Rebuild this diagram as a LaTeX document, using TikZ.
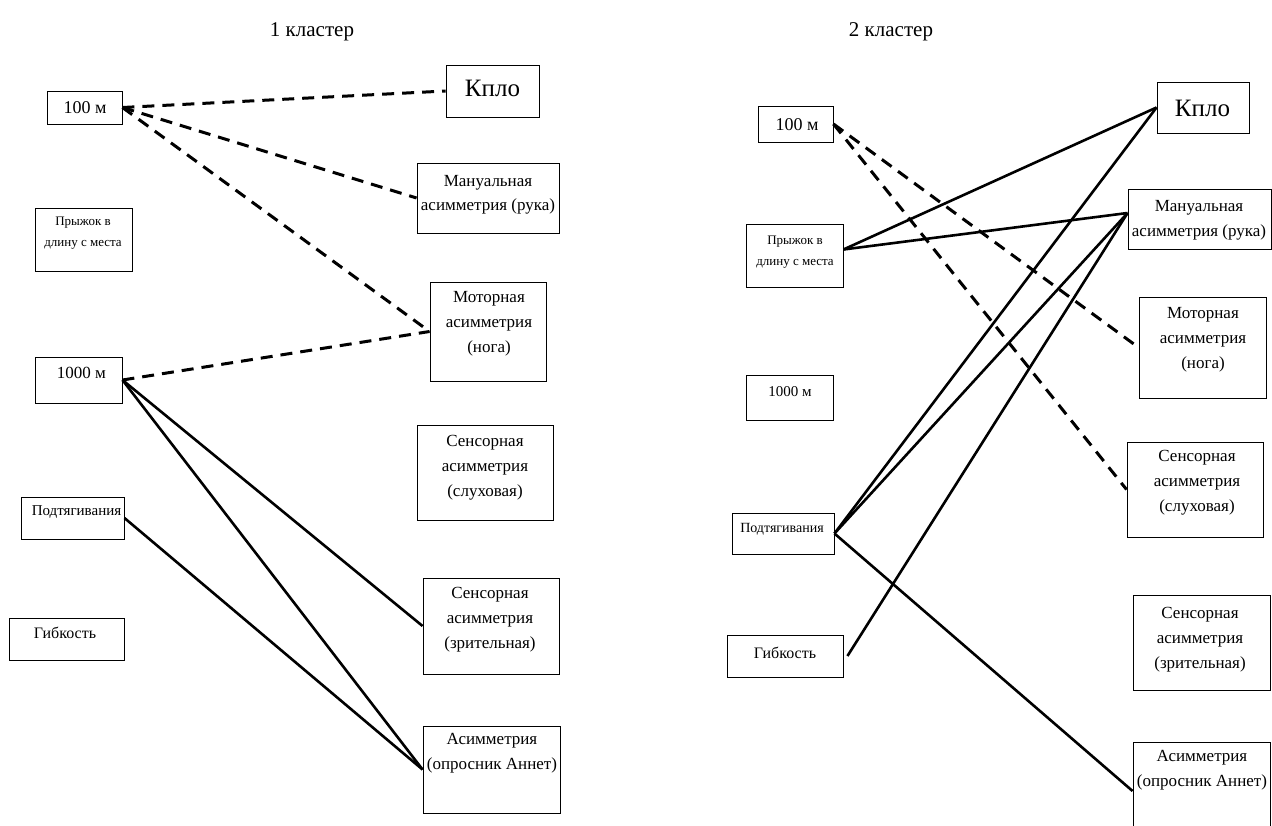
\documentclass[tikz,border=0pt]{standalone}
\usepackage{fontspec}
\setmainfont{Liberation Serif}
\usetikzlibrary{positioning}

\begin{document}
\begin{tikzpicture}[x=1pt, y=-1pt]
          \tikzset{ bx/.style ={draw, line width=0.9pt, inner sep=0pt} }
          \tikzset{ tx/.style ={align=center, inner sep=0pt, font=\fontsize{17}{25}\selectfont} }
          \tikzset{ dsh/.style={line width=3pt, dash pattern=on 12pt off 8pt} }
          \tikzset{ sld/.style={line width=2.6pt} }

          \useasboundingbox (0,0) rectangle (1272,826);
          \clip (0,0) rectangle (1272,826);

          \node[tx, font=\fontsize{21}{25}\selectfont] (ttl1) at (312, 32) {1 кластер};
          \node[tx, font=\fontsize{21}{25}\selectfont] (ttl2) at (891, 32) {2 кластер};

          % 1 кластер
          \node[bx, minimum width=75,  minimum height=33] (c1_100)  at (84.5, 107.5) {};
          \node[bx, minimum width=97,  minimum height=63] (c1_pr)   at (83.5, 239.5) {};
          \node[bx, minimum width=87,  minimum height=46] (c1_1000) at (78.5, 380.0) {};
          \node[bx, minimum width=103, minimum height=42] (c1_pod)  at (72.5, 518.0) {};
          \node[bx, minimum width=115, minimum height=42] (c1_gib)  at (66.5, 639.0) {};
          \node[bx, minimum width=93,  minimum height=52] (c1_kplo) at (492.5, 91.0) {};
          \node[bx, minimum width=142, minimum height=70] (c1_man)  at (488.0, 198.0) {};
          \node[bx, minimum width=116, minimum height=99] (c1_mot)  at (488.0, 331.5) {};
          \node[bx, minimum width=136, minimum height=95] (c1_sl)   at (485.0, 472.5) {};
          \node[bx, minimum width=136, minimum height=96] (c1_zr)   at (491.0, 626.0) {};
          \node[bx, minimum width=137, minimum height=87] (c1_as)   at (491.5, 769.5) {};

          \node[tx, font=\fontsize{18}{24}\selectfont] (c1_100t)  at (85, 108) {100 м};
          \node[tx, font=\fontsize{13}{21}\selectfont] (c1_prt)   at (83, 233.5) {Прыжок в\\длину с места};
          \node[tx, font=\fontsize{17}{24}\selectfont] (c1_1000t) at (81.5, 373) {1000 м};
          \node[tx, font=\fontsize{15}{24}\selectfont] (c1_podt)  at (76.5, 512) {Подтягивания};
          \node[tx, font=\fontsize{16}{24}\selectfont] (c1_gibt)  at (65, 633) {Гибкость};
          \node[tx, font=\fontsize{25}{30}\selectfont] (c1_kplot) at (492.5, 88) {Кпло};
          \node[tx, font=\fontsize{17}{24}\selectfont] (c1_mant)  at (488, 195) {Мануальная\\асимметрия (рука)};
          \node[tx] (c1_mott)  at (489, 323.5) {Моторная\\асимметрия\\(нога)};
          \node[tx] (c1_slt)   at (485, 468) {Сенсорная\\асимметрия\\(слуховая)};
          \node[tx] (c1_zrt)   at (490, 620) {Сенсорная\\асимметрия\\(зрительная)};
          \node[tx] (c1_ast)   at (492, 753.5) {Асимметрия\\(опросник Аннет)};

          \draw[dsh] (c1_100.east) -- (c1_kplo.west);
          \draw[dsh] (c1_100.east) -- (c1_man.west);
          \draw[dsh] (c1_100.east) -- (c1_mot.west);
          \draw[dsh] (c1_1000.east) -- (c1_mot.west);
          \draw[sld] (c1_1000.east) -- (c1_zr.west);
          \draw[sld] (c1_1000.east) -- (c1_as.west);
          \draw[sld] (c1_pod.east) -- (c1_as.west);

          % 2 кластер
          \node[bx, minimum width=75,  minimum height=36] (c2_100)  at (795.5, 124.0) {};
          \node[bx, minimum width=97,  minimum height=63] (c2_pr)   at (794.5, 255.5) {};
          \node[bx, minimum width=87,  minimum height=45] (c2_1000) at (789.5, 397.5) {};
          \node[bx, minimum width=102, minimum height=41] (c2_pod)  at (783.0, 533.5) {};
          \node[bx, minimum width=116, minimum height=42] (c2_gib)  at (785.0, 656.0) {};
          \node[bx, minimum width=92,  minimum height=51] (c2_kplo) at (1203.0, 107.5) {};
          \node[bx, minimum width=143, minimum height=60] (c2_man)  at (1199.5, 219.0) {};
          \node[bx, minimum width=127, minimum height=101] (c2_mot) at (1202.5, 347.5) {};
          \node[bx, minimum width=136, minimum height=95] (c2_sl)   at (1195.0, 489.5) {};
          \node[bx, minimum width=137, minimum height=95] (c2_zr)   at (1201.5, 642.5) {};
          \node[bx, minimum width=137, minimum height=98] (c2_as)   at (1201.5, 791.0) {};

          \node[tx, font=\fontsize{18}{24}\selectfont] (c2_100t)  at (797, 125) {100 м};
          \node[tx, font=\fontsize{13}{21}\selectfont] (c2_prt)   at (795, 252) {Прыжок в\\длину с места};
          \node[tx, font=\fontsize{15}{24}\selectfont] (c2_1000t) at (790, 392) {1000 м};
          \node[tx, font=\fontsize{14}{24}\selectfont] (c2_podt)  at (782, 529) {Подтягивания};
          \node[tx, font=\fontsize{16}{24}\selectfont] (c2_gibt)  at (785, 653) {Гибкость};
          \node[tx, font=\fontsize{25}{30}\selectfont] (c2_kplot) at (1202.5, 108) {Кпло};
          \node[tx] (c2_mant)  at (1199, 220) {Мануальная\\асимметрия (рука)};
          \node[tx] (c2_mott)  at (1203, 340) {Моторная\\асимметрия\\(нога)};
          \node[tx] (c2_slt)   at (1197, 483) {Сенсорная\\асимметрия\\(слуховая)};
          \node[tx] (c2_zrt)   at (1200, 640) {Сенсорная\\асимметрия\\(зрительная)};
          \node[tx] (c2_ast)   at (1202, 770) {Асимметрия\\(опросник Аннет)};

          \draw[dsh] (c2_100.east) -- (c2_mot.west);
          \draw[dsh] (c2_100.east) -- (c2_sl.west);
          \draw[sld] ([yshift=6pt]c2_pr.east) -- (c2_kplo.west);
          \draw[sld] ([yshift=6pt]c2_pr.east) -- ([yshift=6pt]c2_man.west);
          \draw[sld] (c2_pod.east) -- (c2_kplo.west);
          \draw[sld] (c2_pod.east) -- ([yshift=6pt]c2_man.west);
          \draw[sld] (c2_pod.east) -- (c2_as.west);
          \draw[sld] ([xshift=4pt]c2_gib.east) -- ([yshift=6pt]c2_man.west);
      \end{tikzpicture}
\end{document}
